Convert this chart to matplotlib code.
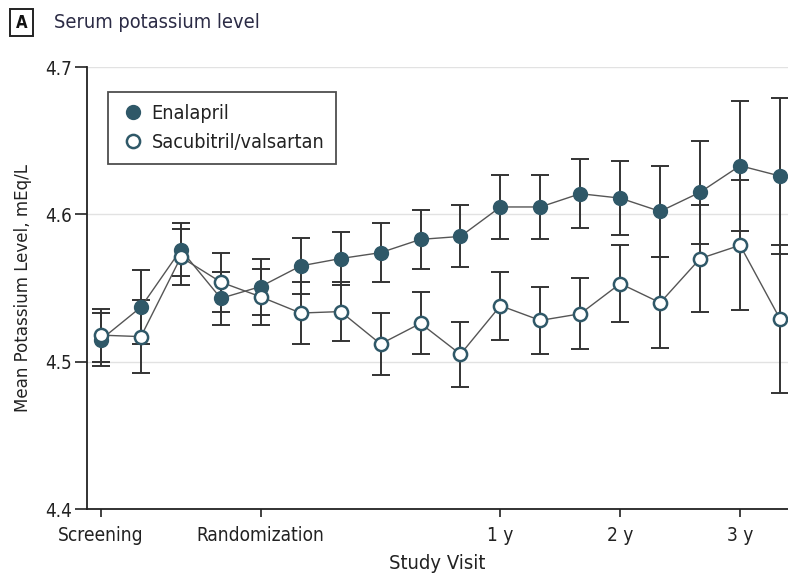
import matplotlib
matplotlib.use("Agg")
import matplotlib.pyplot as plt
from matplotlib import font_manager
from matplotlib.patches import Rectangle

# Visits are equally spaced; selected ones carry a label
visit_index = list(range(18))
tick_visits = [0, 4, 10, 13, 16]
tick_labels = ["Screening", "Randomization", "1 y", "2 y", "3 y"]

# Mean serum potassium (mEq/L) and 95% CI half-widths
enalapril_mean = [4.515, 4.537, 4.576, 4.543, 4.551, 4.565, 4.570, 4.574, 4.583,
                  4.585, 4.605, 4.605, 4.614, 4.611, 4.602, 4.615, 4.633, 4.626]
enalapril_ci = [0.018, 0.025, 0.018, 0.018, 0.019, 0.019, 0.018, 0.020, 0.020,
                0.021, 0.022, 0.022, 0.0235, 0.025, 0.031, 0.035, 0.044, 0.053]
sacval_mean = [4.518, 4.517, 4.571, 4.554, 4.544, 4.533, 4.534, 4.512, 4.526,
               4.505, 4.538, 4.528, 4.5325, 4.553, 4.540, 4.570, 4.579, 4.529]
sacval_ci = [0.018, 0.025, 0.019, 0.020, 0.019, 0.021, 0.020, 0.021, 0.021,
             0.022, 0.023, 0.023, 0.024, 0.026, 0.031, 0.036, 0.044, 0.050]

y_ticks = [4.4, 4.5, 4.6, 4.7]

# Prefer a narrow face for the text
names = {f.name for f in font_manager.fontManager.ttflist}
cond = [f for f in font_manager.fontManager.ttflist
        if f.name == "DejaVu Sans" and f.stretch in ("condensed", 600, "semi-condensed")]
if "Liberation Sans Narrow" in names:
    font_kw = dict(family="Liberation Sans Narrow")
elif cond:
    font_kw = dict(family="DejaVu Sans", stretch="condensed")
else:
    font_kw = dict(family="DejaVu Sans")
plt.rcParams["font.family"] = font_kw["family"]
if "stretch" in font_kw:
    plt.rcParams["font.stretch"] = "condensed"

text_color = "#222222"
mark_color = "#2f5868"
line_color = "#555555"
err_color = "#333333"

fig = plt.figure(figsize=(7.88, 5.75), dpi=100)
ax = fig.add_axes([87 / 788, 1 - 509 / 575, (788 - 87) / 788, (509 - 67) / 575])

for yv in [4.5, 4.6, 4.7]:
    ax.axhline(yv, color="#e2e2e2", lw=1.0, zorder=0)

err_kw = dict(ecolor=err_color, elinewidth=1.4, capsize=6.5, capthick=1.4, zorder=2)

ax.errorbar(visit_index, enalapril_mean, yerr=enalapril_ci, fmt="none", **err_kw)
ax.errorbar(visit_index, sacval_mean, yerr=sacval_ci, fmt="none", **err_kw)
ax.plot(visit_index, enalapril_mean, color=line_color, lw=1.0, zorder=3)
ax.plot(visit_index, sacval_mean, color=line_color, lw=1.0, zorder=3)
h1, = ax.plot(visit_index, enalapril_mean, ls="none", marker="o", ms=9.5,
              mfc=mark_color, mec=mark_color, mew=1.5, zorder=4, label="Enalapril")
h2, = ax.plot(visit_index, sacval_mean, ls="none", marker="o", ms=9.5,
              mfc="white", mec=mark_color, mew=1.8, zorder=5, label="Sacubitril/valsartan")

ax.set_xlim(-0.35, 17.2)
ax.set_ylim(4.4, 4.7)
ax.set_yticks(y_ticks)
ax.set_yticklabels([f"{v:.1f}" for v in y_ticks])
ax.set_xticks(tick_visits)
ax.set_xticklabels(tick_labels)

for s in ["top", "right"]:
    ax.spines[s].set_visible(False)
for s in ["left", "bottom"]:
    ax.spines[s].set_color("#222222")
    ax.spines[s].set_linewidth(1.3)

ax.tick_params(axis="y", length=9, width=1.2, color="#222222", pad=2,
               labelsize=13.5, labelcolor=text_color)
ax.tick_params(axis="x", length=6, width=1.2, color="#222222", pad=6,
               labelsize=13.7, labelcolor=text_color)

ax.set_xlabel("Study Visit", fontsize=14.5, color=text_color, labelpad=7)
ax.set_ylabel("Mean Potassium Level, mEq/L", fontsize=13.3, color=text_color, labelpad=9)

leg = ax.legend(handles=[h1, h2], loc="upper left", bbox_to_anchor=(21 / 701, 1 - 25 / 442),
                borderaxespad=0.0, fontsize=14.2, frameon=True, fancybox=False,
                borderpad=0.6, handletextpad=0.3, handlelength=1.3, labelspacing=0.5)
leg.get_frame().set_edgecolor("#222222")
leg.get_frame().set_linewidth(1.3)
for t in leg.get_texts():
    t.set_color(text_color)

# Panel letter in a box and panel title
fig.patches.append(Rectangle((10 / 788, 1 - 36 / 575), 23 / 788, 27 / 575,
                             transform=fig.transFigure, fill=False,
                             edgecolor="#222222", lw=1.4))
fig.text(21.5 / 788, 1 - 22.5 / 575, "A", ha="center", va="center",
         fontsize=12, fontweight="bold", color="#111111")
fig.text(54 / 788, 1 - 22.5 / 575, "Serum potassium level", ha="left", va="center",
         fontsize=14.3, color="#2b2b45")

fig.savefig("out.png", dpi=100)
